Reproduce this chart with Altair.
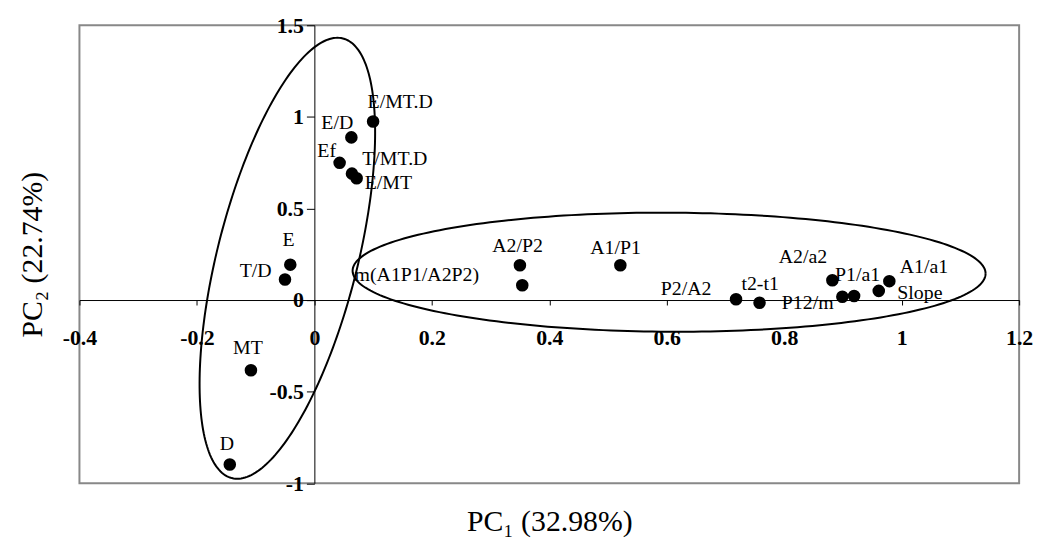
import numpy as np
import pandas as pd
import altair as alt

# ---- data ----
names = ["E/MT.D", "E/D", "Ef", "T/MT.D", "E/MT", "E", "T/D", "MT", "D",
         "A2/P2", "m(A1P1/A2P2)", "A1/P1", "P2/A2", "t2-t1", "A2/a2",
         "P12/m", "P1/a1", "Slope", "A1/a1"]
pc1 = [0.100, 0.063, 0.043, 0.064, 0.072, -0.041, -0.050, -0.108, -0.144,
       0.350, 0.354, 0.521, 0.718, 0.758, 0.882,
       0.899, 0.919, 0.961, 0.979]
pc2 = [0.975, 0.888, 0.749, 0.690, 0.665, 0.193, 0.112, -0.383, -0.898,
       0.190, 0.081, 0.190, 0.004, -0.015, 0.108,
       0.018, 0.022, 0.050, 0.103]
# where each label sits (data units)
lab_x = [0.146, 0.039, 0.021, 0.137, 0.126, -0.044, -0.100, -0.113, -0.149,
         0.346, 0.1745, 0.513, 0.633, 0.759, 0.832,
         0.840, 0.925, 1.031, 1.038]
lab_y = [1.083, 0.966, 0.816, 0.768, 0.641, 0.329, 0.159, -0.262, -0.785,
         0.294, 0.135, 0.285, 0.058, 0.090, 0.235,
         -0.015, 0.135, 0.040, 0.180]

x_ticks = [-0.4, -0.2, 0, 0.2, 0.4, 0.6, 0.8, 1.0, 1.2]
y_ticks = [-1, -0.5, 0, 0.5, 1, 1.5]
x_title = "PC\u2081 (32.98%)"
y_title = "PC\u2082 (22.74%)"

# grouping ellipses (annotation): centre and two half-axis vectors, data units
ell_cx = [-0.046, 0.604]
ell_cy = [0.228, 0.152]
ell_ux = [0.0946, 0.5389]
ell_uy = [1.200, -0.0079]
ell_vx = [0.1157, -0.0005]
ell_vy = [-0.0937, -0.325]

# ---- tables ----
pts = pd.DataFrame({"x": pc1, "y": pc2, "name": names})
labs = pd.DataFrame({"x": lab_x, "y": lab_y, "name": names})
rows = []
t = np.linspace(0, 2 * np.pi, 241)
for g in range(len(ell_cx)):
    for i, tt in enumerate(t):
        rows.append({
            "g": g, "i": i,
            "x": ell_cx[g] + ell_ux[g] * np.cos(tt) + ell_vx[g] * np.sin(tt),
            "y": ell_cy[g] + ell_uy[g] * np.cos(tt) + ell_vy[g] * np.sin(tt),
        })
ell = pd.DataFrame(rows)

W, H = 947, 461.5
FONT = "Liberation Serif"

xscale = alt.Scale(domain=[-0.4, 1.2], nice=False, zero=False)
yscale = alt.Scale(domain=[-1, 1.5], nice=False, zero=False)

xaxis = alt.Axis(
    values=x_ticks, offset=-H / 2.5, grid=False,
    domainColor="black", domainWidth=1, tickColor="black", tickSize=5,
    labelExpr="'' + round(datum.value * 10) / 10",
    labelFont=FONT, labelFontSize=22, labelFontWeight="bold", labelColor="black",
    labelPadding=33, labelBaseline="middle", labelFlush=False, labelOverlap=False,
    title=x_title, titleFont=FONT, titleFontSize=30, titleFontWeight="normal",
    titleColor="black", titleBaseline="alphabetic", titleY=232,
)
yaxis = alt.Axis(
    values=y_ticks, offset=-W * 0.25, grid=False,
    domainColor="black", domainWidth=1, tickColor="black", tickSize=8,
    labelExpr="'' + round(datum.value * 10) / 10",
    labelFont=FONT, labelFontSize=22, labelFontWeight="bold", labelColor="black",
    labelPadding=3, labelBaseline="middle", labelFlush=False, labelOverlap=False,
    title=y_title, titleFont=FONT, titleFontSize=30, titleFontWeight="normal",
    titleColor="black", titleBaseline="alphabetic", titleX=-275.2,
)

X = alt.X("x:Q", scale=xscale, axis=xaxis)
Y = alt.Y("y:Q", scale=yscale, axis=yaxis)

ellipses = alt.Chart(ell).mark_line(color="black", strokeWidth=2).encode(
    x=X, y=Y, detail="g:N", order="i:Q"
)
dots = alt.Chart(pts).mark_circle(color="black", opacity=1, size=160).encode(x=X, y=Y)
texts = alt.Chart(labs).mark_text(
    font=FONT, fontSize=20, color="black", align="center", baseline="middle"
).encode(x=X, y=Y, text="name:N")

chart = alt.layer(ellipses, dots, texts).properties(
    width=W, height=H,
    autosize=alt.AutoSizeParams(type="none"),
    padding={"left": 72, "top": 15.3, "right": 16, "bottom": 65},
).configure_view(stroke="#888888", strokeWidth=2)

chart.save("out.html", embed_options={"renderer": "svg", "actions": False})
